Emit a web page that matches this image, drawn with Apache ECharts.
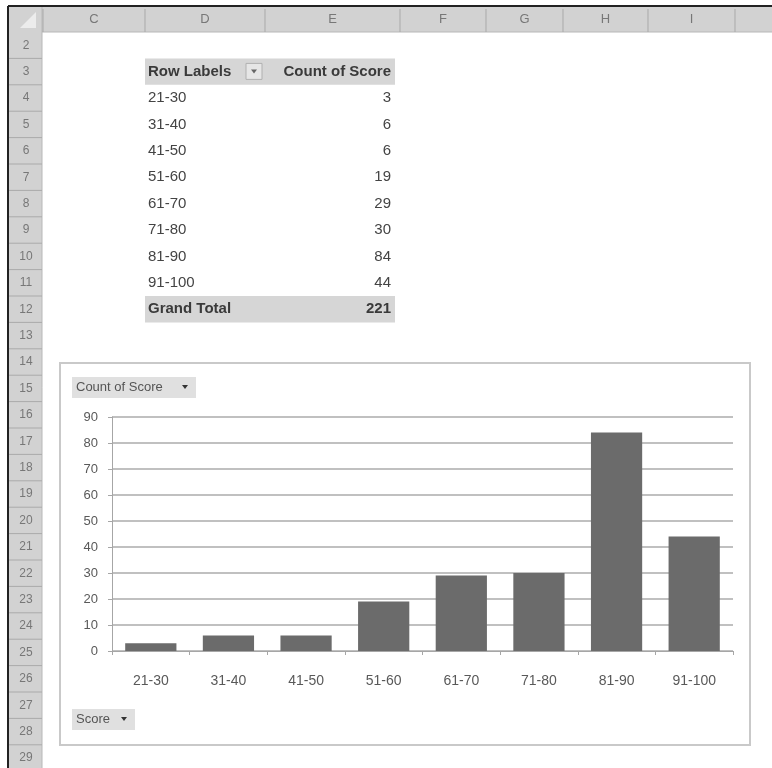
<!DOCTYPE html>
<html>
<head>
<meta charset="utf-8">
<title>Count of Score</title>
<script src="https://cdn.jsdelivr.net/npm/echarts@6/dist/echarts.min.js"></script>
<style>
  html, body { margin: 0; padding: 0; background: #fff; }
  #chart { width: 772px; height: 768px; }
</style>
</head>
<body>
<div id="chart"></div>
<script>
// pivot data
const categories = ["21-30", "31-40", "41-50", "51-60", "61-70", "71-80", "81-90", "91-100"];
const counts = [3, 6, 6, 19, 29, 30, 84, 44];
const valueTitle = "Count of Score";
const rowTitle = "Row Labels";
const totalTitle = "Grand Total";
const fieldName = "Score";

// sheet chrome
const columnLetters = ["C", "D", "E", "F", "G", "H", "I"];
const columnEdges = [43, 145, 265, 400, 486, 563, 648, 735];
const firstRow = 2;
const lastRow = 29;

const FONT = "Liberation Sans, Arial, sans-serif";
const headTop = 7, headBottom = 32, rowH = 26.4;
const rowTop = (n) => headBottom + (n - firstRow) * rowH;

const graphics = [];

// header strip + row header column
graphics.push({ type: "rect", shape: { x: 9, y: headTop, width: 763, height: headBottom - headTop }, style: { fill: "#d2d2d2" }, z: -20 });
graphics.push({ type: "rect", shape: { x: 9, y: headBottom, width: 33, height: 768 - headBottom }, style: { fill: "#d2d2d2" }, z: -20 });
graphics.push({ type: "line", shape: { x1: 8, y1: 6, x2: 772, y2: 6 }, style: { stroke: "#222", lineWidth: 2 }, z: -10 });
graphics.push({ type: "line", shape: { x1: 8, y1: 6, x2: 8, y2: 768 }, style: { stroke: "#222", lineWidth: 2 }, z: -10 });
graphics.push({ type: "line", shape: { x1: 42, y1: headBottom, x2: 772, y2: headBottom }, style: { stroke: "#b8b8b8", lineWidth: 1 }, z: -10 });
graphics.push({ type: "line", shape: { x1: 42, y1: headTop, x2: 42, y2: 768 }, style: { stroke: "#b8b8b8", lineWidth: 1 }, z: -10 });
// corner triangle
graphics.push({ type: "polygon", shape: { points: [[36, 12], [36, 28], [20, 28]] }, style: { fill: "#ececec" }, z: -10 });

columnEdges.forEach((x) => {
  graphics.push({ type: "line", shape: { x1: x, y1: headTop + 2, x2: x, y2: headBottom }, style: { stroke: "#a9a9a9", lineWidth: 1 }, z: -10 });
});
columnLetters.forEach((c, i) => {
  const cx = (columnEdges[i] + columnEdges[i + 1]) / 2;
  graphics.push({ type: "text", x: cx, y: (headTop + headBottom) / 2, style: { text: c, font: "13px " + FONT, fill: "#777", align: "center", verticalAlign: "middle" }, z: -5 });
});
for (let r = firstRow; r <= lastRow; r++) {
  const t = rowTop(r);
  graphics.push({ type: "line", shape: { x1: 9, y1: t + rowH, x2: 42, y2: t + rowH }, style: { stroke: "#aaaaaa", lineWidth: 1 }, z: -10 });
  graphics.push({ type: "text", x: 26, y: t + rowH / 2, style: { text: String(r), font: "12px " + FONT, fill: "#777", align: "center", verticalAlign: "middle" }, z: -5 });
}

// pivot table
const tLeft = 145, tRight = 395;
const cellFont = "15px " + FONT;
const boldFont = "bold 15px " + FONT;
graphics.push({ type: "rect", shape: { x: tLeft, y: rowTop(3), width: tRight - tLeft, height: rowH }, style: { fill: "#d6d6d6" }, z: -8 });
graphics.push({ type: "text", x: 148, y: rowTop(3) + rowH / 2, style: { text: rowTitle, font: boldFont, fill: "#3a3a3a", verticalAlign: "middle" }, z: -5 });
graphics.push({ type: "rect", shape: { x: 246, y: rowTop(3) + 5, width: 16, height: 16 }, style: { fill: "#e6e6e6", stroke: "#b0b0b0", lineWidth: 1 }, z: -6 });
graphics.push({ type: "polygon", shape: { points: [[251, rowTop(3) + 11], [257, rowTop(3) + 11], [254, rowTop(3) + 15]] }, style: { fill: "#666" }, z: -5 });
graphics.push({ type: "text", x: 391, y: rowTop(3) + rowH / 2, style: { text: valueTitle, font: boldFont, fill: "#3a3a3a", align: "right", verticalAlign: "middle" }, z: -5 });

categories.forEach((c, i) => {
  const cy = rowTop(4 + i) + rowH / 2;
  graphics.push({ type: "text", x: 148, y: cy, style: { text: c, font: cellFont, fill: "#444", verticalAlign: "middle" }, z: -5 });
  graphics.push({ type: "text", x: 391, y: cy, style: { text: String(counts[i]), font: cellFont, fill: "#444", align: "right", verticalAlign: "middle" }, z: -5 });
});
const totalRow = 4 + categories.length;
const total = counts.reduce((a, b) => a + b, 0);
graphics.push({ type: "rect", shape: { x: tLeft, y: rowTop(totalRow), width: tRight - tLeft, height: rowH }, style: { fill: "#d6d6d6" }, z: -8 });
graphics.push({ type: "text", x: 148, y: rowTop(totalRow) + rowH / 2, style: { text: totalTitle, font: boldFont, fill: "#3a3a3a", verticalAlign: "middle" }, z: -5 });
graphics.push({ type: "text", x: 391, y: rowTop(totalRow) + rowH / 2, style: { text: String(total), font: boldFont, fill: "#3a3a3a", align: "right", verticalAlign: "middle" }, z: -5 });

// chart frame and field buttons
graphics.push({ type: "rect", shape: { x: 60, y: 363, width: 690, height: 382 }, style: { fill: "#fff", stroke: "#c9c9c9", lineWidth: 2 }, z: -4 });
const button = (x, y, w, label) => {
  graphics.push({ type: "rect", shape: { x: x, y: y, width: w, height: 21 }, style: { fill: "#e0e0e0" }, z: -3 });
  graphics.push({ type: "text", x: x + 4, y: y + 10.5, style: { text: label, font: "13px " + FONT, fill: "#555", verticalAlign: "middle" }, z: -2 });
  graphics.push({ type: "polygon", shape: { points: [[x + w - 14, y + 8], [x + w - 8, y + 8], [x + w - 11, y + 12]] }, style: { fill: "#333" }, z: -2 });
};
button(72, 377, 124, valueTitle);
button(72, 709, 63, fieldName);

const chart = echarts.init(document.getElementById("chart"));
chart.setOption({
  backgroundColor: "#fff",
  animation: false,
  textStyle: { fontFamily: FONT },
  graphic: { elements: graphics },
  grid: { left: 112, top: 417, width: 621, height: 234 },
  xAxis: {
    type: "category",
    data: categories,
    axisLine: { lineStyle: { color: "#a6a6a6", width: 1 } },
    axisTick: { show: true, length: 4, lineStyle: { color: "#a6a6a6" } },
    axisLabel: { color: "#595959", fontSize: 14, margin: 23 },
  },
  yAxis: {
    type: "value",
    min: 0,
    max: 90,
    interval: 10,
    axisLine: { show: true, lineStyle: { color: "#a6a6a6", width: 1 } },
    axisTick: { show: true, length: 4, lineStyle: { color: "#a6a6a6" } },
    axisLabel: { color: "#595959", fontSize: 13, margin: 14 },
    splitLine: { lineStyle: { color: "#c0c0c0", width: 2 } },
  },
  series: [
    {
      name: valueTitle,
      type: "bar",
      data: counts,
      barCategoryGap: "34%",
      itemStyle: { color: "#6b6b6b" },
    },
  ],
});
window.addEventListener("resize", () => {
  chart.resize();
});
</script>
</body>
</html>
